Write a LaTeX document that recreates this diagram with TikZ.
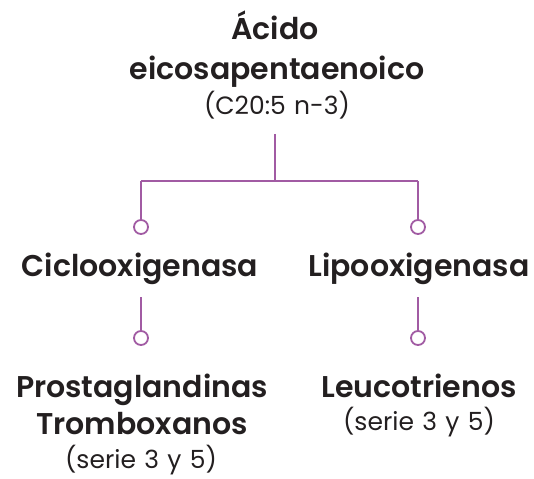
\documentclass[tikz,border=0pt]{standalone}
\usepackage{fontspec}
\setmainfont{Poppins}[BoldFont={* SemiBold}]
\definecolor{lineP}{HTML}{A15BA3}
\definecolor{ink}{HTML}{231F20}
\begin{document}
\begin{tikzpicture}[x=1pt,y=-1pt,
  title/.style={anchor=base,inner sep=0pt,text=ink,font=\fontsize{30}{30}\selectfont\bfseries},
  sub/.style={anchor=base,inner sep=0pt,text=ink,font=\fontsize{25}{25}\selectfont},
  conn/.style={draw=lineP,line width=1.8pt},
  dot/.style={circle,draw=lineP,line width=1.8pt,fill=white,minimum size=14pt,inner sep=0pt}]
\useasboundingbox (0,0) rectangle (534,478);
% top
\node[title] (t1) at (275,40) {Ácido};
\node[title] (t2) at (277,80) {eicosapentaenoico};
\node[sub] (t3) at (277,115) {(C20:5\,\,n-3)};
% middle
\node[title] (c1) at (140,276) {Ciclooxigenasa};
\node[title] (l1) at (419,276) {Lipooxigenasa};
% bottom
\node[title] (p1) at (142,397) {Prostaglandinas};
\node[title] (p2) at (142,434) {Tromboxanos};
\node[sub] (p3) at (141,468) {(serie\,\,3\,\,y\,\,5)};
\node[title] (e1) at (419,397) {Leucotrienos};
\node[sub] (e2) at (419,430) {(serie\,\,3\,\,y\,\,5)};
% connectors
\coordinate (top) at (275,134);
\coordinate (mid) at (275,181);
\coordinate (lc) at (141,181);
\coordinate (rc) at (418,181);
\node[dot] (d1) at (141,227) {};
\node[dot] (d2) at (418,227) {};
\coordinate (ls) at (141,297);
\coordinate (rs) at (418,297);
\node[dot] (d3) at (141,338) {};
\node[dot] (d4) at (418,338) {};
\draw[conn] (top) -- (mid);
\draw[conn] (lc) -- (rc);
\draw[conn] (lc) -- (d1);
\draw[conn] (rc) -- (d2);
\draw[conn] (ls) -- (d3);
\draw[conn] (rs) -- (d4);
\end{tikzpicture}
\end{document}
